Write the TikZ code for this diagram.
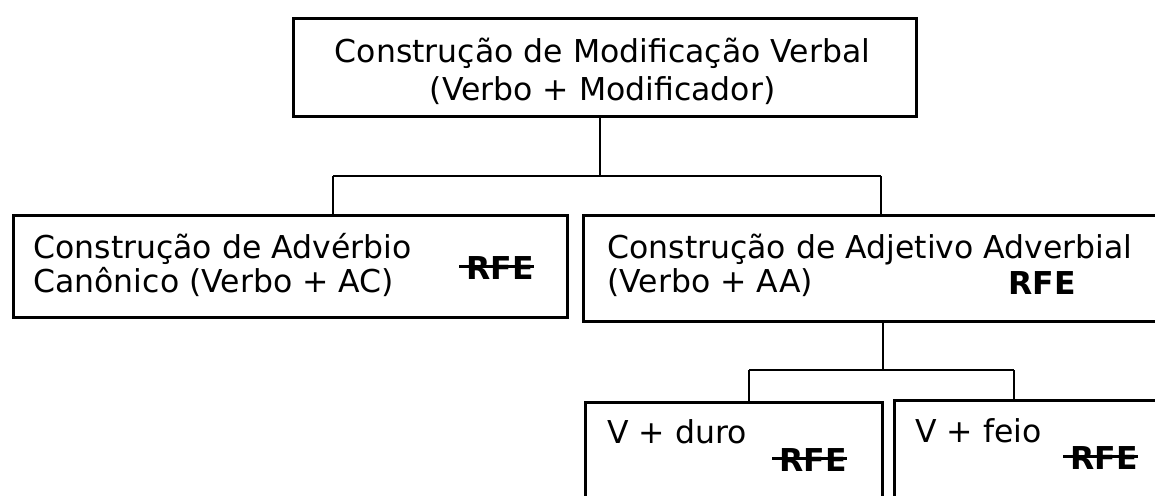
\documentclass[tikz,border=0pt]{standalone}
\usepackage{fontspec}
\setmainfont{DejaVu Sans}
\newcommand\rfestruck{\setbox0\hbox{\bfseries RFE}\rlap{\kern-0.22em\rule[0.36em]{\dimexpr\wd0+0.22em\relax}{0.08em}}\box0}
\begin{document}
\begin{tikzpicture}[x=0.5pt,y=-0.5pt,
  box/.style={draw, line width=1.5pt, inner sep=0pt, anchor=north west},
  conn/.style={line width=0.75pt},
  lbl/.style={anchor=base west, inner sep=0pt, font=\fontsize{15.75}{19}\selectfont},
  clbl/.style={lbl, anchor=base}]
\useasboundingbox (0,0) rectangle (1155,495);
\clip (0,0) rectangle (1155,495);
% boxes
\node[box, minimum width=311.5pt, minimum height=49pt] (top) at (292,17) {};
\node[box, minimum width=277pt, minimum height=51pt] (left) at (12,214) {};
\node[box, minimum width=294pt, minimum height=53pt] (right) at (582,214) {};
\node[box, minimum width=148.5pt, minimum height=55pt] (duro) at (584,401) {};
\node[box, minimum width=138.5pt, minimum height=56pt] (feio) at (893,399) {};
% texts
\node[clbl] (t1) at (602.5,62) {Construção de Modificação Verbal};
\node[clbl] (t2) at (602.5,100) {(Verbo + Modificador)};
\node[lbl] (l1) at (33,258) {Construção de Advérbio};
\node[lbl] (l2) at (33,292) {Canônico (Verbo + AC)};
\node[lbl] (l3) at (466,279) {\rfestruck};
\node[lbl] (r1) at (607,258) {Construção de Adjetivo Adverbial};
\node[lbl] (r2) at (607,292) {(Verbo + AA)};
\node[lbl] (r3) at (1008,294) {\bfseries RFE};
\node[lbl] (d1) at (607,443) {V + duro};
\node[lbl] (d2) at (779,471) {\rfestruck};
\node[lbl] (f1) at (915,442) {V + feio};
\node[lbl] (f2) at (1070,469) {\rfestruck};
% connectors
\coordinate (j1) at (600,176);
\coordinate (la) at (333,176);
\coordinate (ra) at (881,176);
\draw[conn] (top.south -| j1) -- (j1);
\draw[conn] (la) -- (ra);
\draw[conn] (la) -- (left.north -| la);
\draw[conn] (ra) -- (right.north -| ra);
\coordinate (j2) at (883,370);
\coordinate (da) at (749,370);
\coordinate (fa) at (1014,370);
\draw[conn] (right.south -| j2) -- (j2);
\draw[conn] (da) -- (fa);
\draw[conn] (da) -- (duro.north -| da);
\draw[conn] (fa) -- (feio.north -| fa);
\end{tikzpicture}
\end{document}
